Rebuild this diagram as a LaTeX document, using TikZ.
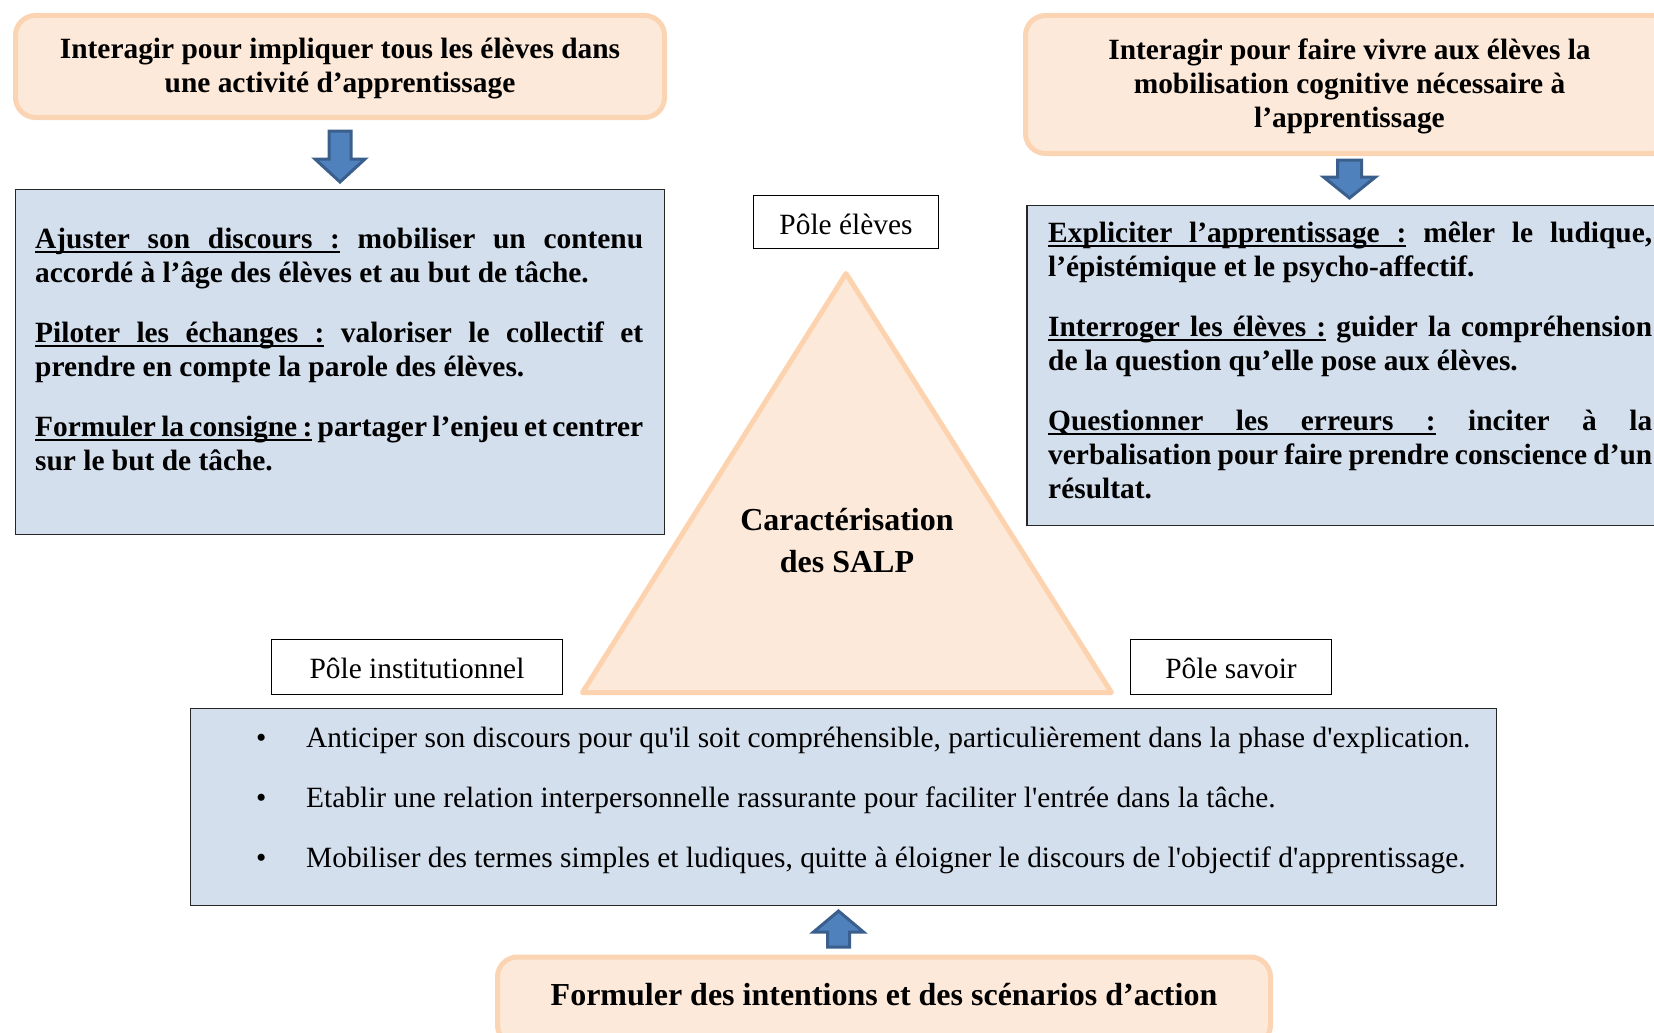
\documentclass[tikz,border=0pt]{standalone}
\usepackage{fontspec}
\setmainfont{Liberation Serif}
\usetikzlibrary{calc}
\definecolor{peachfill}{HTML}{FDE9D9}
\definecolor{peachline}{HTML}{FBD4B4}
\definecolor{triline}{HTML}{FCD3AE}
\definecolor{bluefill}{HTML}{D4DFEE}
\definecolor{arrowfill}{HTML}{4F81BD}
\definecolor{arrowline}{HTML}{3A5F8C}
\newcommand\ulword[1]{\setbox0\hbox{#1}\rlap{\vrule height -3.4pt depth 5.4pt width \wd0}\box0\relax}
\newcommand\ulsp{\leaders\hrule height -3.4pt depth 5.4pt\hskip\fontdimen2\font plus\fontdimen3\font minus\fontdimen4\font\relax}
\tikzset{
  peachbox/.style={draw=peachline, fill=peachfill, line width=5pt, rounded corners=20pt, inner sep=0pt},
  bluebox/.style={draw=black!85, fill=bluefill, line width=1.5pt, inner sep=0pt},
  polebox/.style={draw=black, fill=white, line width=1.2pt, inner sep=0pt},
  poletxt/.style={inner sep=0pt, font=\fontsize{29.4}{34}\selectfont},
  blockarrow/.style={draw=arrowline, fill=arrowfill, line width=3pt, line join=miter},
  headtxt/.style={inner sep=0pt, align=center, font=\fontsize{29.4}{34}\selectfont\bfseries},
  bigtxt/.style={inner sep=0pt, align=center, font=\fontsize{32}{42}\selectfont\bfseries},
  bline/.style={anchor=base west, inner sep=0pt, font=\fontsize{29.4}{34}\selectfont\bfseries},
  rline/.style={anchor=base west, inner sep=0pt, font=\fontsize{29.4}{34}\selectfont},
}
\begin{document}
\begin{tikzpicture}[x=1pt,y=-1pt]
\useasboundingbox (0,0) rectangle (1654,1033);
\clip (0,0) rectangle (1654,1033);

% ---------- top boxes ----------
\node[peachbox, minimum width=649, minimum height=102] (tl) at (340,66.5) {};
\node[headtxt] (tltxt) at ($(tl.center)+(0,2)$) {Interagir pour impliquer tous les élèves dans\\une activité d’apprentissage};

\node[peachbox, minimum width=648, minimum height=138] (tr) at (1349.5,84.5) {};
\node[headtxt] (trtxt) at ($(tr.center)+(0,2)$) {Interagir pour faire vivre aux élèves la\\mobilisation cognitive nécessaire à\\l’apprentissage};

% ---------- blue boxes ----------
\node[bluebox, minimum width=649, minimum height=345] (lb) at (340,362) {};
\node[bluebox, minimum width=650, minimum height=320] (rb) at (1352,365.5) {};
\node[bluebox, minimum width=1306, minimum height=197] (bb) at (843.5,807) {};

% left box text
\node[bline] (l1) at (35,248) {\makebox[608pt][s]{\ulword{Ajuster}\ulsp\ulword{son}\ulsp\ulword{discours}\ulsp\ulword{:} mobiliser un contenu}};
\node[bline] (l2) at (35,282) {accordé à l’âge des élèves et au but de tâche.};
\node[bline] (l3) at (35,342) {\makebox[608pt][s]{\ulword{Piloter}\ulsp\ulword{les}\ulsp\ulword{échanges}\ulsp\ulword{:} valoriser le collectif et}};
\node[bline] (l4) at (35,376) {prendre en compte la parole des élèves.};
\node[bline] (l5) at (35,436) {\makebox[608pt][s]{\ulword{Formuler}\ulsp\ulword{la}\ulsp\ulword{consigne}\ulsp\ulword{:} partager l’enjeu et centrer}};
\node[bline] (l6) at (35,470) {sur le but de tâche.};

% right box text
\node[bline] (r1) at (1048,242) {\makebox[604pt][s]{\ulword{Expliciter}\ulsp\ulword{l’apprentissage}\ulsp\ulword{:} mêler le ludique,}};
\node[bline] (r2) at (1048,276) {l’épistémique et le psycho-affectif.};
\node[bline] (r3) at (1048,336) {\makebox[604pt][s]{\ulword{Interroger}\ulsp\ulword{les}\ulsp\ulword{élèves}\ulsp\ulword{:} guider la compréhension}};
\node[bline] (r4) at (1048,370) {de la question qu’elle pose aux élèves.};
\node[bline] (r5) at (1048,430) {\makebox[604pt][s]{\ulword{Questionner}\ulsp\ulword{les}\ulsp\ulword{erreurs}\ulsp\ulword{:} inciter à la}};
\node[bline] (r6) at (1048,464) {\makebox[604pt][s]{verbalisation pour faire prendre conscience d’un}};
\node[bline] (r7) at (1048,498) {résultat.};

% bottom blue box text
\node[rline] (bu1) at (256,747) {\textbullet};
\node[rline] (bt1) at (306,747) {Anticiper son discours pour qu\textquotesingle il soit compréhensible, particulièrement dans la phase d\textquotesingle explication.};
\node[rline] (bu2) at (256,807) {\textbullet};
\node[rline] (bt2) at (306,807) {Etablir une relation interpersonnelle rassurante pour faciliter l\textquotesingle entrée dans la tâche.};
\node[rline] (bu3) at (256,867) {\textbullet};
\node[rline] (bt3) at (306,867) {Mobiliser des termes simples et ludiques, quitte à éloigner le discours de l\textquotesingle objectif d\textquotesingle apprentissage.};

% ---------- triangle ----------
\coordinate (apex) at (846,273.5);
\coordinate (tbl) at (582.5,692.5);
\coordinate (tbr) at (1111.5,692.5);
\draw[draw=triline, fill=peachfill, line width=5pt, line join=round] (apex) -- (tbl) -- (tbr) -- cycle;
\node[bigtxt] (car) at (847,540.5) {Caractérisation\\des SALP};

% ---------- pole labels ----------
\node[polebox, minimum width=185, minimum height=53] (pe) at (846,222) {};
\node[poletxt] (petxt) at (846,224) {Pôle élèves};
\node[polebox, minimum width=291, minimum height=55] (pi) at (417,667) {};
\node[poletxt] (pitxt) at (417,668.5) {Pôle institutionnel};
\node[polebox, minimum width=201, minimum height=55] (ps) at (1231,667) {};
\node[poletxt] (pstxt) at (1231,668.5) {Pôle savoir};

% ---------- bottom box ----------
\node[peachbox, minimum width=773, minimum height=88] (bo) at (884,1001) {};
\node[bigtxt] (botxt) at (884,994.5) {Formuler des intentions et des scénarios d’action};

% ---------- block arrows ----------
\coordinate (a1s) at (tl.south |- 0,131);
\coordinate (a1t) at (tl.south |- 0,182);
\draw[blockarrow] ($(a1s)+(-11,0)$) -- ($(a1s)+(11,0)$) -- ($(a1t)+(11,-23)$) -- ($(a1t)+(25,-23)$) -- (a1t) -- ($(a1t)+(-25,-23)$) -- ($(a1t)+(-11,-23)$) -- cycle;

\coordinate (a2s) at (tr.south |- 0,160);
\coordinate (a2t) at (tr.south |- 0,198);
\draw[blockarrow] ($(a2s)+(-12,0)$) -- ($(a2s)+(12,0)$) -- ($(a2t)+(12,-21)$) -- ($(a2t)+(26,-21)$) -- (a2t) -- ($(a2t)+(-26,-21)$) -- ($(a2t)+(-12,-21)$) -- cycle;

\coordinate (a3s) at (838.5,947);
\coordinate (a3t) at (838.5,911);
\draw[blockarrow] ($(a3s)+(-11,0)$) -- ($(a3s)+(11,0)$) -- ($(a3t)+(11,21)$) -- ($(a3t)+(25,21)$) -- (a3t) -- ($(a3t)+(-25,21)$) -- ($(a3t)+(-11,21)$) -- cycle;
\end{tikzpicture}
\end{document}
